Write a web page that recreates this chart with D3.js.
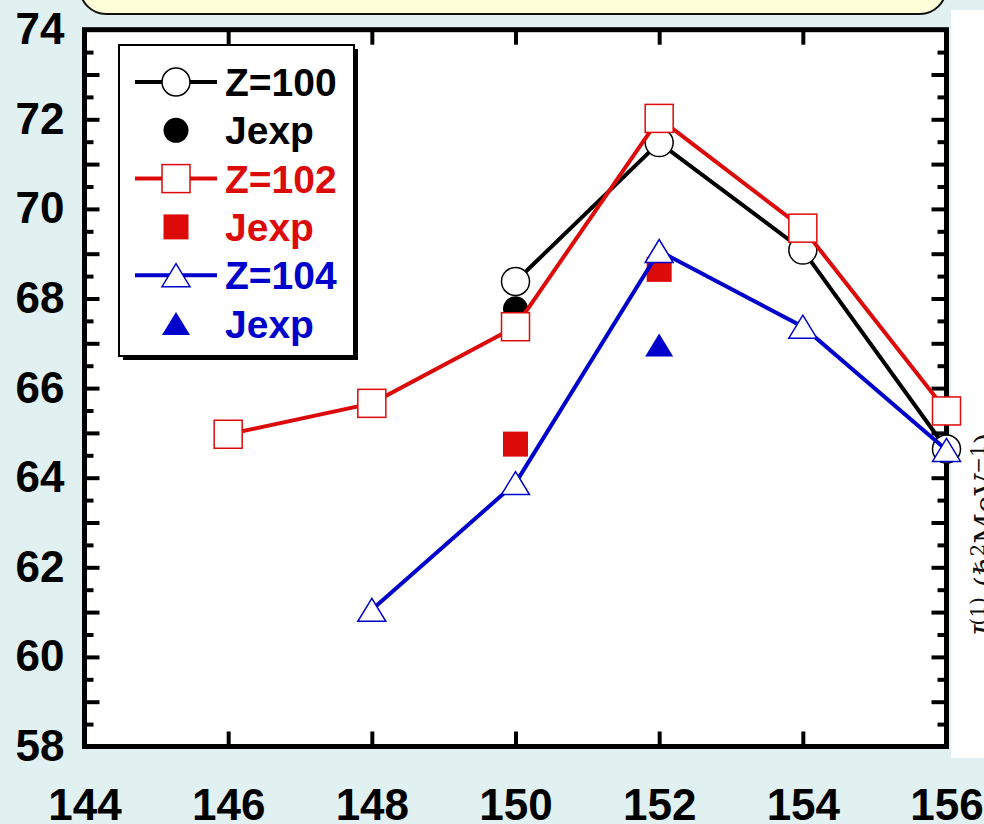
<!DOCTYPE html>
<html lang="en">
<head>
<meta charset="UTF-8">
<title>J(1) vs N</title>
<script src="https://cdn.jsdelivr.net/npm/d3@7/dist/d3.min.js"></script>
<style>
  body { margin: 0; background: #e1f0f0; }
  svg { display: block; font-family: "Liberation Sans", Arial, sans-serif; }
</style>
</head>
<body>
<script>
// data
const xTickValues = [144, 146, 148, 150, 152, 154, 156];
const yLabelValues = [58, 60, 62, 64, 66, 68, 70, 72, 74];

const n100 = [150, 152, 154, 156];
const j100 = [68.38, 71.48, 69.08, 64.64];
const n100exp = [150];
const j100exp = [67.77];

const n102 = [146, 148, 150, 152, 154, 156];
const j102 = [64.97, 65.66, 67.37, 72.02, 69.57, 65.49];
const n102exp = [150, 152];
const j102exp = [64.75, 68.65];

const n104 = [148, 150, 152, 154, 156];
const j104 = [61.05, 63.88, 69.06, 67.37, 64.62];
const n104exp = [152];
const j104exp = [66.96];

const legendLabels = ["Z=100", "Jexp", "Z=102", "Jexp", "Z=104", "Jexp"];

const width = 984, height = 824;
const x0 = 84.5, x1 = 946.5, y0 = 29.7, y1 = 746.5;

const svg = d3.select("body").append("svg")
    .attr("width", width).attr("height", height);

const x = d3.scaleLinear().domain([144, 156]).range([x0, x1]);
const y = d3.scaleLinear().domain([58, 74]).range([y1, y0]);

//decoration: yellow box at the top and white panel on the right
svg.append("rect").attr("x", 80).attr("y", -40).attr("width", 866).attr("height", 54)
    .attr("rx", 26).attr("fill", "#fefed8").attr("stroke", "#111").attr("stroke-width", 2);
svg.append("rect").attr("x", 951).attr("y", 10).attr("width", 40).attr("height", 748)
    .attr("fill", "#fff");
const ylab = svg.append("text")
    .attr("transform", "translate(996,535) rotate(-90)")
    .attr("text-anchor", "middle")
    .attr("font-family", "'DejaVu Serif', 'Liberation Serif', serif")
    .attr("font-size", 30).attr("fill", "#111");
ylab.append("tspan").attr("font-style", "italic").text("J");
ylab.append("tspan").attr("font-size", 20).attr("dy", -11).text("(1)");
ylab.append("tspan").attr("dy", 11).text(" (ℏ");
ylab.append("tspan").attr("font-size", 20).attr("dy", -11).text("2");
ylab.append("tspan").attr("dy", 11).text("MeV");
ylab.append("tspan").attr("font-size", 20).attr("dy", -11).text("−1");
ylab.append("tspan").attr("dy", 11).text(")");

//plot area
svg.append("rect").attr("x", x0).attr("y", y0).attr("width", x1 - x0).attr("height", y1 - y0)
    .attr("fill", "#fff");

function styleAxis(g) {
    g.select(".domain").remove();
    g.selectAll(".tick line").attr("stroke", "#000").attr("stroke-width", 4);
    g.selectAll(".tick text").attr("fill", "#000").attr("font-size", 44).attr("font-weight", "bold");
}

const innerX = d3.range(146, 155, 2);
svg.append("g").attr("transform", `translate(0,${y1})`)
    .call(d3.axisBottom(x).tickValues(xTickValues).tickSize(0).tickPadding(42))
    .call(styleAxis);
svg.append("g").attr("transform", `translate(0,${y1})`)
    .call(d3.axisBottom(x).tickValues(innerX).tickSize(-15).tickFormat(""))
    .call(styleAxis);
svg.append("g").attr("transform", `translate(0,${y0})`)
    .call(d3.axisTop(x).tickValues(innerX).tickSize(-15).tickFormat(""))
    .call(styleAxis);

const majorY = d3.range(59, 74, 1);
const minorY = d3.range(58.5, 74, 1);
svg.append("g").attr("transform", `translate(${x0},0)`)
    .call(d3.axisLeft(y).tickValues(yLabelValues).tickSize(0).tickPadding(20))
    .call(styleAxis);
svg.append("g").attr("transform", `translate(${x0},0)`)
    .call(d3.axisLeft(y).tickValues(majorY).tickSize(-15).tickFormat(""))
    .call(styleAxis);
svg.append("g").attr("transform", `translate(${x0},0)`)
    .call(d3.axisLeft(y).tickValues(minorY).tickSize(-9).tickFormat(""))
    .call(styleAxis);
svg.append("g").attr("transform", `translate(${x1},0)`)
    .call(d3.axisRight(y).tickValues(majorY).tickSize(-15).tickFormat(""))
    .call(styleAxis);
svg.append("g").attr("transform", `translate(${x1},0)`)
    .call(d3.axisRight(y).tickValues(minorY).tickSize(-9).tickFormat(""))
    .call(styleAxis);

svg.append("rect").attr("x", x0).attr("y", y0).attr("width", x1 - x0).attr("height", y1 - y0)
    .attr("fill", "none").attr("stroke", "#000").attr("stroke-width", 5);

//marker shapes
function marker(g, shape, cx, cy, color, filled) {
    const fill = filled ? color : "#fff";
    const sw = filled ? 0 : 1.5;
    if (shape === "circle") {
        g.append("circle").attr("cx", cx).attr("cy", cy).attr("r", filled ? 12.5 : 14)
            .attr("fill", fill).attr("stroke", color).attr("stroke-width", sw);
    } else if (shape === "square") {
        const s = filled ? 25 : 28;
        g.append("rect").attr("x", cx - s / 2).attr("y", cy - s / 2).attr("width", s).attr("height", s)
            .attr("fill", fill).attr("stroke", color).attr("stroke-width", sw);
    } else {
        const hw = 14, hh = 11.5;
        g.append("path").attr("d", `M${cx},${cy - hh}L${cx + hw},${cy + hh}L${cx - hw},${cy + hh}Z`)
            .attr("fill", fill).attr("stroke", color).attr("stroke-width", sw);
    }
}

const series = [
    {xs: n100, ys: j100, exs: n100exp, eys: j100exp, color: "#000", shape: "circle"},
    {xs: n102, ys: j102, exs: n102exp, eys: j102exp, color: "#dd0a0a", shape: "square"},
    {xs: n104, ys: j104, exs: n104exp, eys: j104exp, color: "#0000cc", shape: "triangle"}
];

const line = d3.line().x(d => x(d[0])).y(d => y(d[1]));
series.forEach(s => {
    const g = svg.append("g");
    g.append("path").datum(d3.zip(s.xs, s.ys)).attr("d", line)
        .attr("fill", "none").attr("stroke", s.color).attr("stroke-width", 4);
    s.xs.forEach((v, i) => marker(g, s.shape, x(v), y(s.ys[i]), s.color, false));
    s.exs.forEach((v, i) => marker(g, s.shape, x(v), y(s.eys[i]), s.color, true));
});

//legend
const lg = svg.append("g");
lg.append("rect").attr("x", 123).attr("y", 49).attr("width", 235).attr("height", 311).attr("fill", "#000");
lg.append("rect").attr("x", 119).attr("y", 45).attr("width", 235).attr("height", 311)
    .attr("fill", "#fff").attr("stroke", "#000").attr("stroke-width", 2);
legendLabels.forEach((lab, i) => {
    const s = series[Math.floor(i / 2)];
    const cy = 82 + i * 48.3;
    const open = i % 2 === 0;
    if (open) {
        lg.append("line").attr("x1", 135).attr("x2", 217).attr("y1", cy).attr("y2", cy)
            .attr("stroke", s.color).attr("stroke-width", 4);
    }
    marker(lg, s.shape, 176, cy, s.color, !open);
    lg.append("text").attr("x", 225).attr("y", cy + 14)
        .attr("font-size", 39).attr("font-weight", "bold").attr("fill", s.color).text(lab);
});
</script>
</body>
</html>
